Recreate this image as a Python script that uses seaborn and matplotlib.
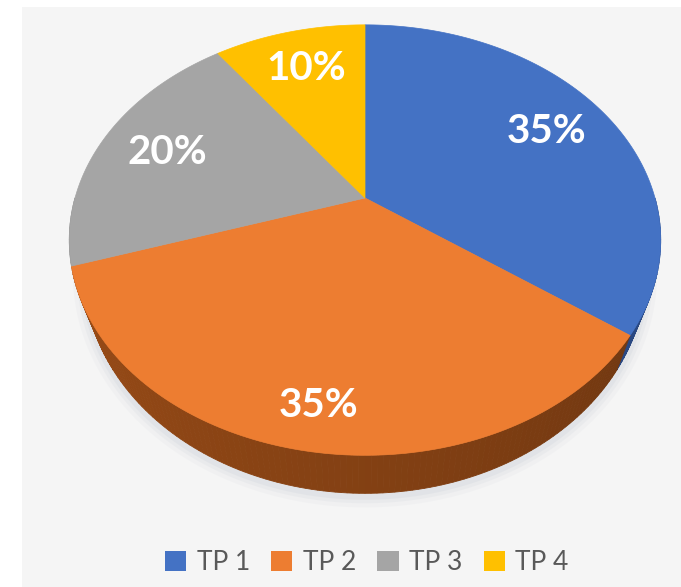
import numpy as np
import matplotlib
matplotlib.use("Agg")
import matplotlib.pyplot as plt
from matplotlib.patches import Patch, Rectangle, Polygon
from matplotlib.colors import to_rgb
import seaborn as sns

# data
categories = ["TP 1", "TP 2", "TP 3", "TP 4"]
shares = [35, 35, 20, 10]
labels = ["35%", "35%", "20%", "10%"]

sns.set_theme(style="white")
plt.rcParams['font.family'] = ['Lato', 'DejaVu Sans']

colors = ["#4472C4", "#ED7D31", "#A5A5A5", "#FFC000"]
side_colors = ["#2c4d8c", "#7a3c12", "#6e6e6e", "#a07800"]

# geometry of the tilted pie (pixel space)
cx, cy = 365, 198
A, B, k = 290, 207, 0.1955
depth = 30.6
shrink = 0.95   # bottom rim looks a bit narrower (perspective)
label_r = [0.75, 0.85, 0.75, 0.75]


def project(theta, r=1.0):
    x = r * np.cos(theta)
    y = r * np.sin(theta)
    s = 1 + k * y
    return cx + A * x / s, cy - B * y / s


def project_bottom(theta):
    x, y = project(theta)
    return cx + (x - cx) * shrink, y + depth / (1 + k * np.sin(theta))


fig = plt.figure(figsize=(6.81, 5.87), dpi=100)
ax = fig.add_axes([0, 0, 1, 1])
ax.set_xlim(0, 681)
ax.set_ylim(587, 0)
ax.axis("off")

# light panel behind the chart
ax.add_patch(Rectangle((22, 7), 681 - 22, 587 - 7, facecolor="#f5f5f5",
                       edgecolor="none", zorder=0))

# slice angles, clockwise from 12 o'clock
fracs = np.array(shares) / sum(shares)
ends = 90 - 360 * np.cumsum(fracs)
starts = np.concatenate([[90], ends[:-1]])

# soft shadow under the pie
th = np.linspace(-np.pi * 0.97, -np.pi * 0.03, 200)
sx, sy = project_bottom(th)
for w, a in [(16, 0.05), (10, 0.07), (5, 0.09)]:
    ax.plot(sx, sy + 3, color="#9aa6b8", lw=w, alpha=a,
            solid_capstyle="round", zorder=1)

# side wall (front half only)
for i in range(len(shares)):
    t1, t2 = max(ends[i], -180), min(starts[i], 0)
    if t1 >= t2:
        continue
    degs = np.append(np.arange(t2, t1, -1.0), t1)
    base = np.array(to_rgb(side_colors[i]))
    for a0, a1 in zip(degs[:-1], degs[1:]):
        ta = np.radians([a0, a1])
        x, y = project(ta)
        xb, yb = project_bottom(ta)
        # lighter on the left, darker to the right
        shade = 1.3 - 0.45 * (180 + (a0 + a1) / 2) / 180
        c = np.clip(base * shade, 0, 1)
        ax.add_patch(Polygon([(x[0], y[0]), (x[1], y[1]), (xb[1], yb[1]),
                              (xb[0], yb[0])], closed=True, facecolor=c,
                             edgecolor=c, lw=0.6, zorder=2))

# top face
for i in range(len(shares)):
    th = np.radians(np.linspace(starts[i], ends[i], 120))
    x, y = project(th)
    pts = np.column_stack([np.concatenate([[cx], x]), np.concatenate([[cy], y])])
    ax.add_patch(Polygon(pts, closed=True, facecolor=colors[i],
                         edgecolor=colors[i], lw=0.5, zorder=3))

# percentage labels
for i in range(len(shares)):
    mid = np.radians((starts[i] + ends[i]) / 2)
    lx, ly = project(mid, label_r[i])
    ax.text(lx, ly, labels[i], color="white", fontsize=29, fontweight="bold",
            ha="center", va="center", zorder=5)

handles = [Patch(facecolor=c, edgecolor="none") for c in colors]
fig.legend(handles, categories, loc="center", ncol=4,
           bbox_to_anchor=(367 / 681, 1 - 563 / 587), frameon=False,
           fontsize=19, labelcolor="#595959", handlelength=0.8,
           handleheight=0.8, handletextpad=0.4, columnspacing=0.8)

fig.savefig("out.png", dpi=100, facecolor="white")
